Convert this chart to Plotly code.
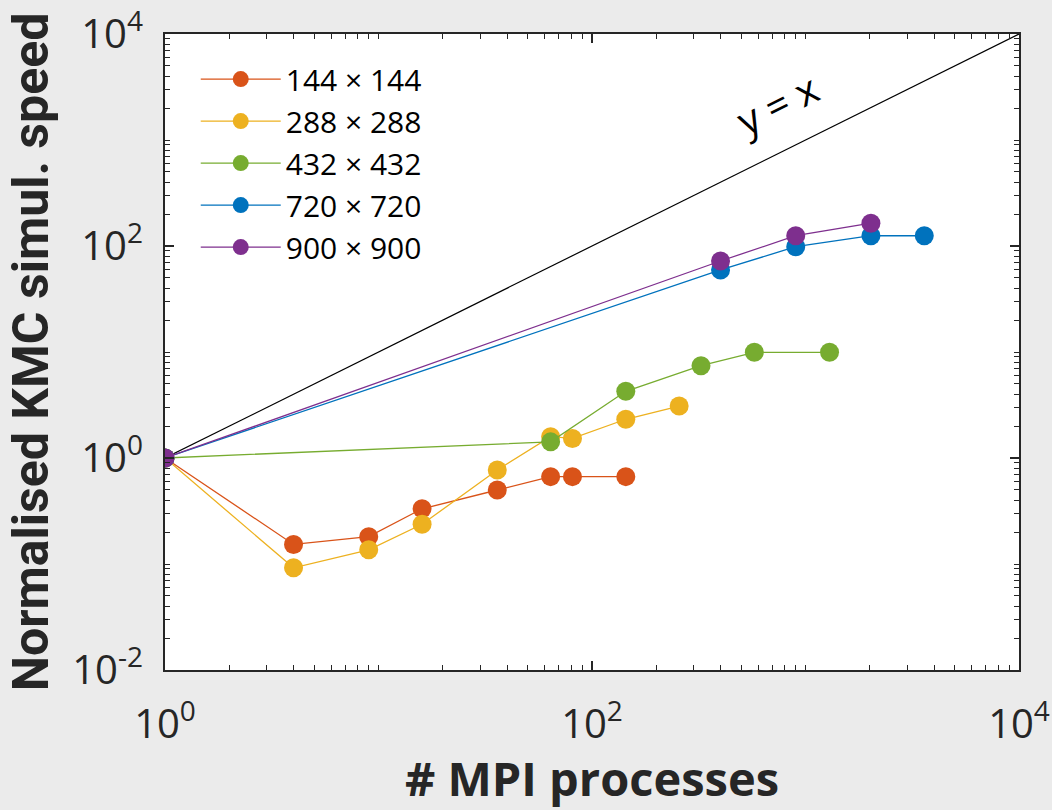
import plotly.graph_objects as go

# ---- data ----
procs_144 = [1, 4, 9, 16, 36, 64, 81, 144]
speed_144 = [1, 0.153, 0.181, 0.332, 0.499, 0.667, 0.667, 0.667]
procs_288 = [1, 4, 9, 16, 36, 64, 81, 144, 256]
speed_288 = [1, 0.092, 0.136, 0.237, 0.77, 1.59, 1.53, 2.32, 3.09]
procs_432 = [1, 64, 144, 324, 576, 1296]
speed_432 = [1, 1.42, 4.26, 7.43, 9.94, 9.94]
procs_720 = [1, 400, 900, 2025, 3600]
speed_720 = [1, 59.4, 98.5, 125, 125]
procs_900 = [1, 400, 900, 2025]
speed_900 = [1, 72.2, 125, 164]
ideal_x = [1, 10000]
ideal_y = [1, 10000]

series_names = ["144 × 144", "288 × 288", "432 × 432", "720 × 720", "900 × 900"]
series_colors = ["#D95319", "#EDB120", "#77AC30", "#0072BD", "#7E2F8E"]

x_tickvals = [1, 100, 10000]
x_ticktext = ["10<sup>0</sup>", "10<sup>2</sup>", "10<sup>4</sup>"]
y_tickvals = [0.01, 1, 100, 10000]
y_ticktext = ["10<sup>-2</sup>", "10<sup>0</sup>", "10<sup>2</sup>", "10<sup>4</sup>"]

x_minor = [m * 10 ** e for e in range(0, 4) for m in range(1, 10)] + [10000]
y_minor = [m * 10.0 ** e for e in range(-2, 4) for m in range(1, 10)] + [10000]

AX = "#262626"

fig = go.Figure()
fig.add_trace(go.Scatter(x=ideal_x, y=ideal_y, mode="lines",
                         line=dict(color="black", width=1.2), showlegend=False))

data = [(procs_144, speed_144), (procs_288, speed_288), (procs_432, speed_432),
        (procs_720, speed_720), (procs_900, speed_900)]
for (xs, ys), name, col in zip(data, series_names, series_colors):
    fig.add_trace(go.Scatter(x=xs, y=ys, mode="lines+markers", name=name,
                             line=dict(color=col, width=1.3),
                             marker=dict(color=col, size=19, line=dict(width=0))))

fig.add_annotation(x=2.87, y=3.34, xref="x", yref="y", text="y = x",
                   showarrow=False, textangle=-26.4,
                   font=dict(family="Open Sans", size=40, color="black"))

axis_common = dict(
    type="log", showgrid=False, zeroline=False, automargin=False,
    showline=True, linecolor=AX, linewidth=2, mirror="ticks",
    ticks="inside", ticklen=9, tickwidth=1.5, tickcolor=AX,
    tickfont=dict(family="Open Sans", size=40, color=AX),
)

fig.update_xaxes(**axis_common, range=[0, 4], tickmode="array",
                 tickvals=x_tickvals, ticktext=x_ticktext,
                 ticklabelstandoff=18,
                 minor=dict(tickmode="array", tickvals=x_minor, ticklen=5,
                            tickwidth=1.3, tickcolor=AX, ticks="inside"),
                 title=dict(text="<b># MPI processes</b>", standoff=2,
                            font=dict(family="Open Sans", size=47, color=AX)))
fig.update_yaxes(**axis_common, range=[-2, 4], tickmode="array",
                 tickvals=y_tickvals, ticktext=y_ticktext,
                 ticklabelstandoff=12,
                 minor=dict(tickmode="array", tickvals=y_minor, ticklen=5,
                            tickwidth=1.3, tickcolor=AX, ticks="inside"),
                 title=dict(text="<b>Normalised KMC simul. speed</b>", standoff=8,
                            font=dict(family="Roboto", size=50, color=AX)))

fig.update_layout(
    width=1052, height=810,
    margin=dict(l=165, r=33, t=34, b=140),
    paper_bgcolor="#EBEBEB", plot_bgcolor="white",
    showlegend=True,
    legend=dict(x=0.036, y=0.97, xanchor="left", yanchor="top",
                bgcolor="rgba(0,0,0,0)", borderwidth=0,
                font=dict(family="Open Sans", size=30, color="black"),
                itemwidth=80),
)

fig.write_html("out.html")
